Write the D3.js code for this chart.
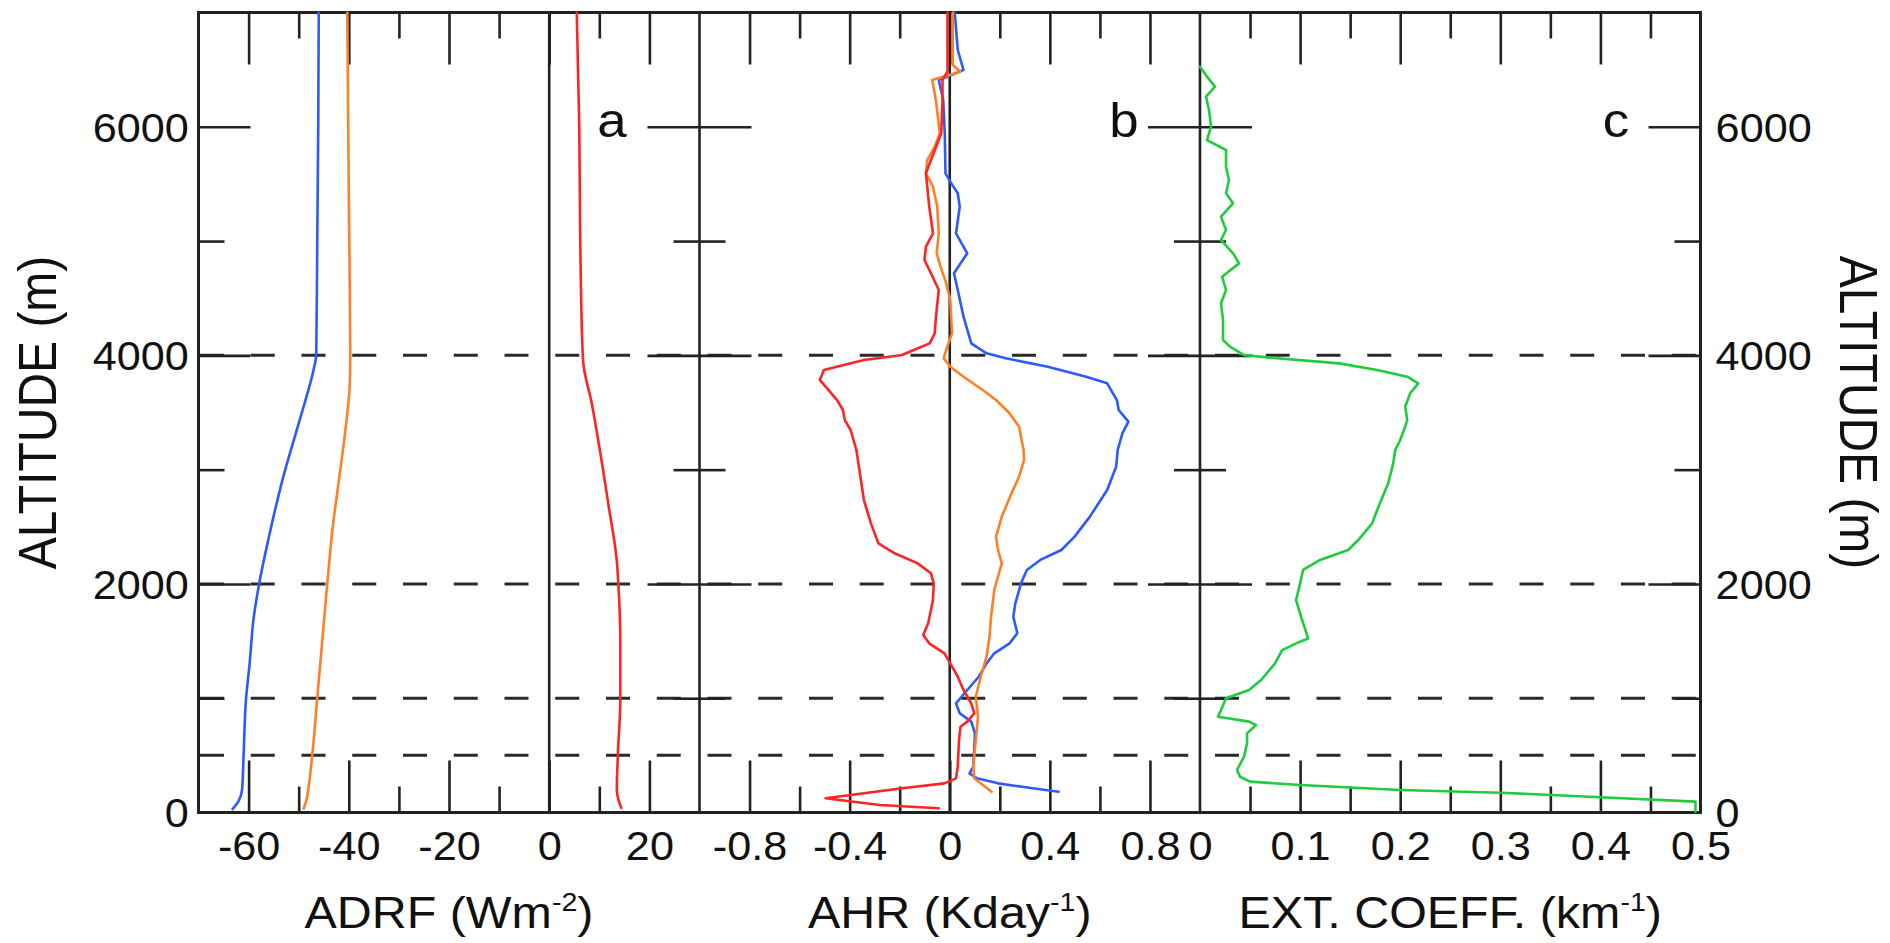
<!DOCTYPE html>
<html>
<head>
<meta charset="utf-8">
<script src="https://cdn.jsdelivr.net/npm/d3@7"></script>
<style>
  html, body { margin: 0; padding: 0; background: #fff; }
  svg { display: block; font-family: "Liberation Sans", Arial, sans-serif; }
</style>
</head>
<body>
<svg id="chart" width="1890" height="943"></svg>
<script>
// ---------- data: vertical profiles (altitude in m) ----------
// Panel a: aerosol direct radiative forcing (W m-2)
const adrfBlueAlt   = [30, 100, 200, 500, 1000, 1300, 1700, 2000, 2400, 2900, 3450, 3900, 4000, 5000, 6000, 7000];
const adrfBlue      = [-63.2, -62.0, -61.3, -61.0, -60.5, -59.8, -59.0, -57.9, -56.0, -53.3, -49.7, -46.9, -46.5, -46.3, -46.1, -46.0];
const adrfOrangeAlt = [35, 100, 230, 500, 1000, 1500, 2000, 2500, 2900, 3300, 3750, 4000, 5400, 6500, 7000];
const adrfOrange    = [-49.0, -48.5, -48.0, -47.3, -46.3, -45.3, -44.3, -43.2, -42.0, -40.8, -39.8, -39.7, -40.0, -40.2, -40.3];
const adrfRedAlt    = [40, 100, 200, 500, 1000, 1500, 2000, 2200, 2700, 3200, 3600, 3900, 4000, 5000, 6000, 7000];
const adrfRed       = [14.4, 13.9, 13.5, 13.7, 14.2, 14.2, 13.8, 13.5, 11.8, 10.0, 8.4, 6.9, 6.7, 6.2, 6.0, 5.5];

// Panel b: aerosol heating rate (K day-1)
const ahrRedAlt = [37, 66, 124, 212, 255, 299, 401, 634, 751, 795, 868, 955, 1072, 1188, 1305, 1393, 1480, 1553, 1655, 1859,
  2005, 2093, 2180, 2268, 2355, 2530, 2734, 2997, 3172, 3347, 3434, 3522, 3609, 3726, 3784, 3872, 3959, 4003, 4047, 4105,
  4193, 4338, 4572, 4718, 4834, 4951, 5068, 5301, 5476, 5593, 5709, 5943, 6234, 6409, 6482, 7000];
const ahrRed = [-0.044, -0.28, -0.496, -0.19, -0.021, 0.025, 0.032, 0.037, 0.043, 0.07, 0.098, 0.086, 0.055, 0.032, 0.002, -0.021, -0.082, -0.106, -0.086, -0.067,
  -0.064, -0.075, -0.128, -0.22, -0.285, -0.315, -0.343, -0.361, -0.373, -0.396, -0.419, -0.427, -0.45, -0.496, -0.519, -0.503, -0.343, -0.19, -0.144, -0.08,
  -0.06, -0.055, -0.044, -0.075, -0.101, -0.095, -0.067, -0.082, -0.09, -0.095, -0.075, -0.034, -0.029, -0.029, -0.009, -0.009];

const ahrOrangeAlt = [182, 299, 401, 634, 838, 1013, 1188, 1363, 1538, 1713, 1947, 2064, 2180, 2297, 2414, 2589, 2793, 2938, 3084, 3172,
  3376, 3493, 3609, 3697, 3813, 3901, 3974, 4047, 4193, 4484, 4630, 4776, 4893, 5068, 5301, 5476, 5593, 5709, 5826, 5943,
  6175, 6292, 6409, 6482, 6540, 7000];
const ahrOrange = [0.167, 0.098, 0.094, 0.104, 0.113, 0.104, 0.124, 0.147, 0.159, 0.165, 0.178, 0.193, 0.208, 0.193, 0.185, 0.208, 0.247, 0.277, 0.297, 0.295,
  0.277, 0.239, 0.185, 0.132, 0.055, 0.002, -0.024, -0.014, 0.009, 0.002, -0.014, -0.037, -0.052, -0.044, -0.05, -0.067, -0.095, -0.09, -0.06, -0.04,
  -0.052, -0.06, -0.07, 0.043, 0.012, 0.012];

const ahrBlueAlt = [182, 212, 255, 299, 343, 401, 693, 795, 868, 955, 1072, 1188, 1305, 1393, 1480, 1568, 1713, 1830, 2005, 2122,
  2210, 2297, 2414, 2589, 2822, 3026, 3172, 3318, 3420, 3522, 3609, 3755, 3813, 3901, 3974, 4018, 4105, 4338, 4572, 4718,
  4893, 5068, 5301, 5418, 5505, 5593, 5943, 6234, 6409, 6497, 6672, 7000];
const ahrBlue = [0.435, 0.331, 0.193, 0.109, 0.079, 0.094, 0.101, 0.086, 0.04, 0.025, 0.07, 0.116, 0.147, 0.178, 0.239, 0.27, 0.254, 0.262, 0.285, 0.308,
  0.362, 0.446, 0.499, 0.56, 0.629, 0.665, 0.671, 0.69, 0.714, 0.675, 0.668, 0.629, 0.545, 0.392, 0.224, 0.147, 0.086, 0.055, 0.032, 0.017,
  0.07, 0.025, 0.04, 0.032, 0.006, -0.017, -0.02, -0.026, -0.044, 0.055, 0.032, 0.02];

// Panel c: aerosol extinction coefficient (km-1)
const extAlt = [7, 95, 133, 173, 197, 240, 270, 313, 372, 488, 605, 692, 765, 795, 838, 897, 999, 1072, 1159, 1305,
  1421, 1480, 1523, 1713, 1859, 2005, 2122, 2210, 2297, 2384, 2530, 2647, 2880, 3055, 3172, 3259, 3376, 3434, 3551, 3668,
  3755, 3813, 3872, 3930, 3974, 4003, 4076, 4134, 4309, 4455, 4572, 4688, 4805, 4893, 5009, 5097, 5213, 5330, 5418, 5534,
  5651, 5797, 5884, 6001, 6147, 6264, 6351, 6439, 6526];
const ext = [0.495, 0.495, 0.4, 0.3, 0.2, 0.1, 0.05, 0.04, 0.037, 0.044, 0.047, 0.047, 0.056, 0.049, 0.018, 0.021, 0.026, 0.049, 0.061, 0.075,
  0.082, 0.096, 0.108, 0.101, 0.096, 0.1, 0.103, 0.12, 0.148, 0.158, 0.172, 0.177, 0.188, 0.193, 0.195, 0.2, 0.205, 0.207, 0.205, 0.21,
  0.218, 0.207, 0.177, 0.139, 0.077, 0.044, 0.03, 0.023, 0.023, 0.021, 0.026, 0.022, 0.039, 0.033, 0.021, 0.026, 0.021, 0.033, 0.026, 0.029,
  0.026, 0.026, 0.007, 0.011, 0.009, 0.006, 0.015, 0.007, 0.0];

// ---------- axis ticks and labels ----------
const altMajor = [2000, 4000, 6000];
const altMinor = [1000, 3000, 5000];
const altLabels = [0, 2000, 4000, 6000];
const altDashed = [500, 1000, 2000, 4000];

const adrfMajor = [-60, -40, -20, 0, 20];
const adrfMinor = [-50, -30, -10, 10];
const adrfLabels = [-60, -40, -20, 0, 20];
const ahrMajor = [-0.8, -0.4, 0, 0.4, 0.8];
const ahrMinor = [-0.6, -0.2, 0.2, 0.6];
const ahrLabels = [-0.8, -0.4, 0, 0.4, 0.8];
const extMajor = [0.1, 0.2, 0.3, 0.4];
const extMinor = [0.05, 0.15, 0.25, 0.35, 0.45];
const extLabels = [0, 0.1, 0.2, 0.3, 0.4, 0.5];

const COLORS = { blue: "#2a5bff", orange: "#ff7f24", red: "#ff2424", green: "#1fcc3c", ink: "#222222" };

// ---------- layout ----------
const svg = d3.select("#chart");
const plotTop = 12.5, plotBottom = 812.5;
const edges = [198.5, 699.5, 1200, 1700.5];
const MAJ = 52, MIN = 26;
const TICK_FONT = 40, TITLE_FONT = 44;
const STRETCH = 1.08;

const y = d3.scaleLinear().domain([0, 7000]).range([plotBottom, plotTop]);
const xA = d3.scaleLinear().domain([-70, 30]).range([edges[0], edges[1]]);
const xB = d3.scaleLinear().domain([-1, 1]).range([edges[1], edges[2]]);
const xC = d3.scaleLinear().domain([0, 0.5]).range([edges[2], edges[3]]);

const gridG = svg.append("g");
const axesG = svg.append("g");
const dataG = svg.append("g");
const textG = svg.append("g").attr("fill", "#111");

// dashed reference altitudes across all panels
gridG.selectAll("line.dash").data(altDashed).join("line")
  .attr("x1", edges[0] + 1.5).attr("x2", edges[3])
  .attr("y1", d => y(d)).attr("y2", d => y(d))
  .attr("stroke", "#2a2a2a").attr("stroke-width", 3)
  .attr("stroke-dasharray", "24,26.75");

function styleAxis(g) {
  g.select(".domain").remove();
  g.selectAll(".tick line").attr("stroke", COLORS.ink).attr("stroke-width", 2.6);
  g.selectAll(".tick text").remove();
}

// x-axis ticks for each panel (inward, top and bottom)
function xTicks(scale, major, minor) {
  [[major, MAJ], [minor, MIN]].forEach(([vals, len]) => {
    axesG.append("g").attr("transform", `translate(0,${plotBottom})`)
      .call(d3.axisTop(scale).tickValues(vals).tickSize(len)).call(styleAxis);
    axesG.append("g").attr("transform", `translate(0,${plotTop})`)
      .call(d3.axisBottom(scale).tickValues(vals).tickSize(len)).call(styleAxis);
  });
}
xTicks(xA, adrfMajor, adrfMinor);
xTicks(xB, ahrMajor, ahrMinor);
xTicks(xC, extMajor, extMinor);

// y-axis ticks: outer axes point inward, panel boundaries both ways
function yTicks(x, axisFn) {
  [[altMajor, MAJ], [altMinor, MIN]].forEach(([vals, len]) => {
    axesG.append("g").attr("transform", `translate(${x},0)`)
      .call(axisFn(y).tickValues(vals).tickSize(len)).call(styleAxis);
  });
}
yTicks(edges[0], d3.axisRight);
yTicks(edges[1], d3.axisRight);
yTicks(edges[1], d3.axisLeft);
yTicks(edges[2], d3.axisRight);
yTicks(edges[2], d3.axisLeft);
yTicks(edges[3], d3.axisLeft);

// full-height vertical lines: zero lines and panel boundaries
const verticals = [xA(0), edges[1], xB(0), edges[2]];
axesG.selectAll("line.v").data(verticals).join("line")
  .attr("x1", d => d).attr("x2", d => d).attr("y1", plotTop).attr("y2", plotBottom)
  .attr("stroke", COLORS.ink).attr("stroke-width", 2.6);

// outer frame
axesG.append("rect")
  .attr("x", edges[0]).attr("y", plotTop)
  .attr("width", edges[3] - edges[0]).attr("height", plotBottom - plotTop)
  .attr("fill", "none").attr("stroke", COLORS.ink).attr("stroke-width", 3);

// ---------- profiles ----------
function profile(alts, vals, xs, color, smooth) {
  const pts = alts.map((a, i) => [vals[i], a]);
  const line = d3.line().x(d => xs(d[0])).y(d => y(d[1]))
    .curve(smooth ? d3.curveMonotoneY : d3.curveLinear);
  dataG.append("path").datum(pts)
    .attr("d", line).attr("fill", "none")
    .attr("stroke", color).attr("stroke-width", 2.6)
    .attr("stroke-linejoin", "round").attr("stroke-linecap", "round");
}
profile(adrfBlueAlt, adrfBlue, xA, COLORS.blue, true);
profile(adrfOrangeAlt, adrfOrange, xA, COLORS.orange, true);
profile(adrfRedAlt, adrfRed, xA, COLORS.red, true);

profile(ahrBlueAlt, ahrBlue, xB, COLORS.blue, false);
profile(ahrOrangeAlt, ahrOrange, xB, COLORS.orange, false);
profile(ahrRedAlt, ahrRed, xB, COLORS.red, false);

profile(extAlt, ext, xC, COLORS.green, false);

// ---------- text ----------
const fmt = d => (d < 0 ? "-" : "") + String(Math.abs(d));

function xLabels(scale, vals) {
  const g = textG.append("g").attr("transform", `translate(0,${plotBottom})`)
    .call(d3.axisBottom(scale).tickValues(vals).tickSize(0).tickFormat(fmt));
  g.select(".domain").remove();
  g.selectAll(".tick text")
    .attr("y", 47.5).attr("dy", null)
    .attr("font-size", TICK_FONT).attr("fill", "#111")
    .attr("font-family", "Liberation Sans, Arial, sans-serif")
    .attr("transform", `scale(${STRETCH},1)`);
}
xLabels(xA, adrfLabels);
xLabels(xB, ahrLabels);
xLabels(xC, extLabels);

function yLabels(x, axisFn, pad) {
  const g = textG.append("g").attr("transform", `translate(${x},0)`)
    .call(axisFn(y).tickValues(altLabels).tickSize(0).tickPadding(pad).tickFormat(fmt));
  g.select(".domain").remove();
  g.selectAll(".tick text")
    .attr("dy", "0.36em")
    .attr("font-size", TICK_FONT).attr("fill", "#111")
    .attr("font-family", "Liberation Sans, Arial, sans-serif")
    .attr("transform", `scale(${STRETCH},1)`);
}
yLabels(edges[0], d3.axisLeft, 9);
yLabels(edges[3], d3.axisRight, 14);

// axis titles with superscripts
function title(cx, main, sup) {
  const t = textG.append("text")
    .attr("transform", `translate(${cx},928) scale(1.1,1)`)
    .attr("text-anchor", "middle").attr("font-size", TITLE_FONT);
  t.append("tspan").text(main);
  t.append("tspan").attr("font-size", 26).attr("dy", -17).text(sup);
  t.append("tspan").attr("dy", 17).text(")");
}
title((edges[0] + edges[1]) / 2, "ADRF (Wm", "-2");
title((edges[1] + edges[2]) / 2, "AHR (Kday", "-1");
title((edges[2] + edges[3]) / 2, "EXT. COEFF. (km", "-1");

// vertical altitude titles on both sides
const midY = (plotTop + plotBottom) / 2;
textG.append("text")
  .attr("transform", `translate(56,${midY}) scale(1.1,1) rotate(-90)`)
  .attr("text-anchor", "middle").attr("font-size", 48)
  .text("ALTITUDE (m)");
textG.append("text")
  .attr("transform", `translate(1840,${midY}) scale(1.1,1) rotate(90)`)
  .attr("text-anchor", "middle").attr("font-size", 48)
  .text("ALTITUDE (m)");

// panel letters
const panelLetters = ["a", "b", "c"];
const letterX = [612, 1124, 1616];
textG.selectAll("text.letter").data(panelLetters).join("text")
  .attr("transform", (d, i) => `translate(${letterX[i]},${y(6000) + 10}) scale(1.1,1)`)
  .attr("text-anchor", "middle").attr("font-size", 48)
  .text(d => d);
</script>
</body>
</html>
